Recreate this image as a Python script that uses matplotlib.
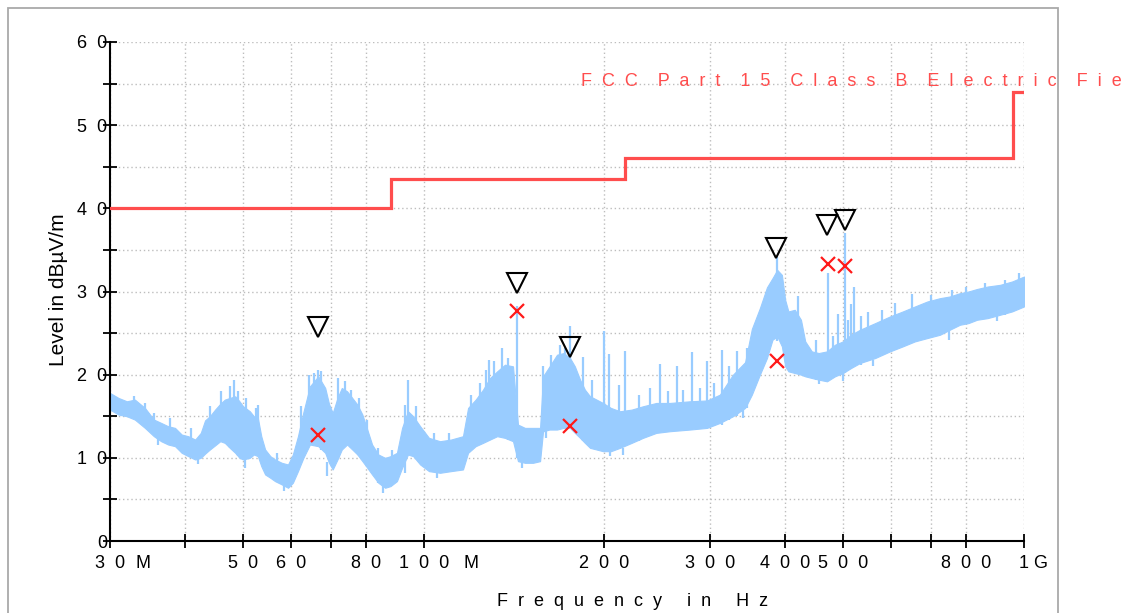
import numpy as np
import matplotlib
matplotlib.use("Agg")
import matplotlib.pyplot as plt
from matplotlib.patches import Rectangle
from matplotlib.ticker import NullLocator

# ---------------- data (MHz / dBuV/m) ----------------
env_freq = [30.0, 31.0, 32.0, 33.0, 34.3, 35.5, 36.5, 37.5, 38.5, 39.5, 40.5, 41.6, 42.5,
            43.2, 44.0, 44.9, 45.8, 46.6, 47.5, 48.5, 49.3, 50.0, 51.3, 52.1, 52.9, 53.6,
            54.4, 55.5, 56.5, 58.0, 59.4, 60.5, 61.7, 63.0, 64.6, 66.7, 68.5, 69.5, 70.5,
            71.8, 73.0, 74.5, 76.0, 77.5, 79.0, 80.5, 82.0, 84.0, 86.2, 88.0, 90.2, 92.0,
            94.1, 96.0, 98.6, 102.0, 106.4, 111.0, 116.2, 118.5, 122.0, 125.5, 128.9,
            132.5, 136.5, 140.8, 143.5, 147.4, 152.0, 156.2, 158.0, 162.0, 166.7, 171.0,
            175.2, 178.5, 182.1, 185.5, 189.2, 194.0, 198.8, 205.0, 212.2, 222.0, 231.8,
            244.0, 257.1, 277.6, 296.4, 311.4, 327.4, 343.0, 352.0, 363.0, 373.0, 381.0,
            388.0, 395.0, 400.0, 405.0, 415.0, 425.0, 432.0, 443.0, 455.0, 469.6, 484.2,
            499.3, 515.0, 533.0, 565.0, 598.0, 628.0, 658.0, 690.0, 724.5, 752.0, 782.0,
            808.0, 835.0, 870.0, 912.0, 955.0, 1000.0]
env_low = [15.8, 15.2, 15.0, 14.6, 13.6, 12.6, 12.0, 11.6, 11.4, 10.6, 10.2, 9.8, 10.0,
           10.5, 11.0, 11.5, 12.0, 11.8, 11.2, 10.6, 10.0, 9.8, 10.0, 10.4, 10.2, 9.0,
           8.0, 7.6, 7.2, 6.8, 6.4, 7.0, 8.4, 10.0, 11.6, 11.4, 10.6, 9.4, 8.6,
           9.8, 11.0, 11.6, 11.0, 10.4, 9.6, 8.8, 8.0, 7.0, 6.4, 6.6, 7.2, 8.8,
           10.4, 10.2, 9.2, 8.4, 8.2, 8.4, 8.6, 10.6, 11.4, 11.8, 12.2,
           12.6, 12.4, 12.0, 9.6, 9.4, 9.4, 9.6, 13.2, 13.4, 13.4, 13.6,
           13.6, 13.0, 12.4, 11.8, 11.2, 11.0, 10.8, 10.8, 11.2, 11.8, 12.4,
           13.0, 13.2, 13.4, 13.6, 14.2, 15.0, 16.0, 17.6, 20.0, 22.0, 24.2,
           24.6, 23.4, 21.0, 20.4, 20.2, 20.0, 19.8, 19.6, 19.4, 19.2, 19.8,
           20.2, 20.8, 21.4, 22.0, 22.8, 23.4, 24.0, 24.4, 24.8, 25.4, 26.0,
           26.2, 26.6, 26.8, 27.2, 27.6, 28.2]
env_high = [17.8, 17.2, 16.8, 17.0, 16.0, 14.6, 14.2, 13.8, 13.6, 12.8, 12.6, 12.2, 13.0,
            14.5, 15.0, 15.8, 16.5, 17.0, 17.2, 17.4, 16.8, 16.2, 15.6, 15.0, 14.8, 12.6,
            11.0, 10.2, 9.8, 9.4, 9.2, 10.4, 12.6, 15.5, 18.6, 19.8, 18.4, 16.5, 15.4,
            17.2, 18.4, 18.0, 17.2, 16.4, 15.2, 13.4, 11.6, 10.4, 10.0, 10.2, 10.6, 13.6,
            15.6, 15.0, 13.8, 12.4, 12.0, 12.2, 12.6, 16.0, 17.0, 18.2, 19.6,
            20.4, 21.2, 21.0, 14.0, 13.6, 13.6, 13.6, 19.8, 21.0, 22.4, 22.6,
            22.0, 21.0, 19.4, 18.2, 17.4, 17.0, 16.6, 16.0, 15.6, 15.8, 16.2,
            16.6, 16.6, 16.8, 16.9, 17.6, 20.0, 21.5, 25.5, 28.0, 30.5, 31.6,
            32.6, 32.0, 29.0, 27.6, 27.8, 26.6, 24.0, 22.8, 22.6, 22.8, 23.6,
            24.0, 24.8, 25.4, 26.2, 27.0, 27.6, 28.2, 28.8, 29.2, 29.4, 29.8,
            30.0, 30.3, 30.6, 30.8, 31.2, 31.8]

# narrow upward spikes: frequency, foot, tip
spike_freq = [32.9, 34.3, 35.5, 37.8, 41.0, 44.0, 46.0, 47.5, 48.2, 49.0, 50.5, 52.5, 52.9,
              57.0, 62.5, 64.3, 65.5, 66.7, 67.5, 72.0, 74.0, 75.5, 78.0, 80.5, 84.0,
              88.5, 93.0, 94.1, 97.0, 104.0, 110.0, 120.0, 124.0, 127.0, 128.6, 131.0,
              135.0, 138.0, 142.9, 158.0, 163.0, 168.7, 172.0, 175.2, 184.1, 190.5,
              199.9, 203.5, 211.6, 216.3, 228.0, 238.0, 247.5, 255.0, 263.8, 270.0,
              279.5, 288.0, 296.0, 305.0, 313.5, 322.0, 332.0, 345.0, 387.6, 420.0,
              450.0, 471.9, 480.0, 490.4, 503.0, 510.0, 515.0, 521.5, 535.0, 550.0,
              580.0, 610.0, 650.0, 700.0, 760.0, 800.0, 860.0, 930.0, 981.0]
spike_base = [15.0, 14.0, 13.0, 12.0, 10.5, 11.0, 12.0, 11.2, 11.0, 10.2, 10.0, 10.4, 10.5,
              7.4, 9.5, 12.0, 12.0, 12.0, 11.0, 10.0, 11.5, 11.2, 10.2, 9.0, 7.0,
              6.8, 8.2, 11.0, 10.0, 8.4, 8.4, 11.0, 11.5, 12.0, 12.0, 12.5,
              12.5, 12.2, 10.0, 13.0, 13.4, 13.5, 13.6, 13.5, 12.0, 11.2,
              10.8, 10.8, 11.2, 11.4, 12.0, 12.6, 13.0, 13.1, 13.2, 13.3,
              13.4, 13.5, 13.6, 13.8, 14.0, 14.5, 15.0, 16.0, 24.0, 20.2,
              19.3, 19.2, 19.6, 20.0, 20.2, 20.6, 20.8, 21.0, 21.2, 21.6,
              22.4, 23.0, 24.0, 24.6, 25.6, 26.1, 26.7, 27.2, 28.0]
spike_top = [17.4, 16.6, 15.4, 14.8, 13.6, 16.2, 18.0, 18.6, 19.4, 18.0, 17.2, 16.0, 16.4,
             10.6, 16.2, 20.0, 20.2, 20.6, 20.4, 19.6, 19.2, 18.2, 17.2, 14.6, 11.2,
             10.9, 16.4, 19.4, 16.2, 13.0, 13.0, 17.6, 19.0, 20.6, 21.8, 21.6,
             23.2, 22.0, 28.2, 21.0, 22.4, 23.6, 23.2, 25.8, 22.1, 19.3,
             25.3, 22.5, 18.7, 22.9, 17.6, 18.4, 21.3, 18.0, 21.0, 18.2,
             22.7, 18.4, 21.6, 19.0, 23.0, 21.0, 22.9, 23.2, 34.2, 29.4,
             24.2, 32.2, 24.6, 27.3, 37.0, 26.6, 28.5, 30.6, 27.0, 27.5,
             27.8, 28.6, 29.7, 29.6, 30.2, 30.6, 31.0, 31.4, 32.2]

# narrow downward dips: frequency, top, bottom
dip_freq = [36.0, 42.0, 50.3, 58.5, 69.0, 85.5, 105.0, 145.6, 160.0, 204.0, 215.0, 340.0,
            456.0, 500.0, 560.0, 750.0, 900.0]
dip_top = [13.0, 10.2, 10.2, 7.0, 9.5, 6.8, 8.4, 9.6, 13.2, 11.0, 11.2, 15.8,
           19.4, 20.4, 21.8, 25.2, 27.0]
dip_bottom = [11.6, 9.2, 8.8, 6.0, 7.8, 5.8, 7.6, 8.8, 12.4, 10.2, 10.4, 14.8,
              18.9, 19.2, 21.0, 24.2, 26.4]

limit_freq = [30, 88, 88, 216, 216, 960, 960, 1000]
limit_level = [40, 40, 43.5, 43.5, 46, 46, 54, 54]
limit_name = "FCC Part 15 Class B Electric Field"

peak_freq = [66.7, 142.9, 175.2, 386.0, 469.6, 503.0]
peak_level = [25.7, 31.0, 23.3, 35.2, 38.0, 38.6]
final_freq = [66.7, 142.9, 175.2, 387.6, 471.9, 503.0]
final_level = [12.7, 27.6, 13.8, 21.6, 33.3, 33.1]

xtick_freq = [30, 40, 50, 60, 70, 80, 100, 200, 300, 400, 500, 600, 700, 800, 1000]
xtick_text = ["30", "", "50", "60", "", "80", "100", "200", "300", "400", "500", "", "", "800", "1"]
unit_marks = [(30, "M", 33), (100, "M", 47), (1000, "G", 16)]
ytick_vals = [0, 5, 10, 15, 20, 25, 30, 35, 40, 45, 50, 55, 60]

# ---------------- style ----------------
TRACE = "#99ccff"
LIMIT = "#ff4d4d"
plt.rcParams["font.family"] = ["Liberation Sans", "DejaVu Sans"]


def spaced(s, n=2):
    return (" " * n).join(s)


def spaced_words(s, n=2, gap=4):
    return (" " * gap).join(spaced(w, n) for w in s.split(" "))


fig = plt.figure(figsize=(11.21, 6.13), dpi=100)
fig.patch.set_facecolor("white")

# outer frame
fig.patches.append(Rectangle((8 / 1121, -0.05), (1058 - 8) / 1121, (613 - 8) / 613 + 0.05,
                             transform=fig.transFigure, fill=False,
                             edgecolor="#a9a9a9", linewidth=1.3))

ax = fig.add_axes([110 / 1121, (613 - 541) / 613, (1024 - 110) / 1121, (541 - 42) / 613])
ax.set_xscale("log")
ax.set_xlim(30, 1000)
ax.set_ylim(0, 60)
ax.set_facecolor("none")

for s in ("top", "right"):
    ax.spines[s].set_visible(False)
for s in ("left", "bottom"):
    ax.spines[s].set_linewidth(1.5)
    ax.spines[s].set_color("black")

ax.set_xticks(xtick_freq)
ax.xaxis.set_minor_locator(NullLocator())
ax.set_xticklabels([spaced(t, 2) for t in xtick_text], fontsize=13)
ax.set_yticks(ytick_vals)
ax.set_yticklabels([spaced(str(v), 2) if v % 10 == 0 else "" for v in ytick_vals], fontsize=13)
ax.tick_params(axis="both", direction="inout", length=10, width=1.3, color="black")
ax.tick_params(axis="y", pad=-3.0)
ax.tick_params(axis="x", pad=5)

ax.set_axisbelow(True)
ax.grid(True, which="major", color="#bdbdbd", linestyle=(0, (1, 2)), linewidth=1.0)

for f, u, off in unit_marks:
    ax.annotate(u, xy=(f, 0), xycoords="data", xytext=(off, -14),
                textcoords="offset pixels", ha="center", va="top",
                fontsize=13, annotation_clip=False)

# trace
ax.fill_between(env_freq, env_low, env_high, color=TRACE, linewidth=0.8, edgecolor=TRACE, zorder=2)
ax.vlines(spike_freq, spike_base, spike_top, color=TRACE, linewidth=1.6, zorder=2)
ax.vlines(dip_freq, dip_bottom, dip_top, color=TRACE, linewidth=1.6, zorder=2)

# limit line
ax.plot(limit_freq, limit_level, color=LIMIT, linewidth=2.3, zorder=3, solid_joinstyle="miter")
fig.text(581 / 1121, (613 - 81) / 613, spaced_words(limit_name, 2, 4),
         color=LIMIT, fontsize=13, ha="left", va="center")

# markers
ax.plot(peak_freq, peak_level, linestyle="none", marker="v", markersize=15,
        markerfacecolor="none", markeredgecolor="black", markeredgewidth=1.5, zorder=4,
        clip_on=False)
ax.plot(final_freq, final_level, linestyle="none", marker="x", markersize=10,
        color="#ff1a1a", markeredgewidth=1.6, zorder=5)

# axis titles
fig.text(59 / 1121, (613 - 290) / 613, "Level in dB\u00b5V/m", rotation=90,
         ha="center", va="center", fontsize=15)
fig.text(633 / 1121, (613 - 601) / 613, spaced_words("Frequency in Hz", 2, 5),
         ha="center", va="center", fontsize=13)

fig.savefig("out.png", dpi=100)
